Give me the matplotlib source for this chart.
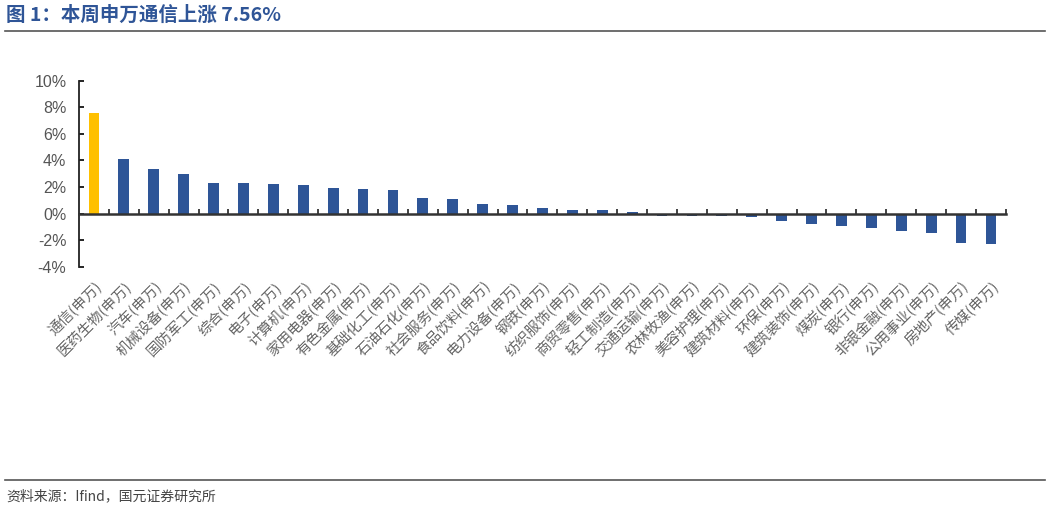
import matplotlib
matplotlib.use("Agg")
import matplotlib.pyplot as plt
from matplotlib.lines import Line2D
from matplotlib.ticker import FixedLocator, FuncFormatter

plt.rcParams['font.family'] = ['Noto Sans CJK SC', 'DejaVu Sans']

industries = ['通信', '医药生物', '汽车', '机械设备', '国防军工', '综合', '电子', '计算机',
              '家用电器', '有色金属', '基础化工', '石油石化', '社会服务', '食品饮料', '电力设备',
              '钢铁', '纺织服饰', '商贸零售', '轻工制造', '交通运输', '农林牧渔', '美容护理',
              '建筑材料', '环保', '建筑装饰', '煤炭', '银行', '非银金融', '公用事业', '房地产', '传媒']
weekly_change = [7.56, 4.08, 3.33, 2.96, 2.30, 2.28, 2.20, 2.15, 1.90, 1.85, 1.80,
                 1.15, 1.07, 0.70, 0.62, 0.40, 0.27, 0.25, 0.12, -0.20, -0.20, -0.18,
                 -0.28, -0.55, -0.78, -0.93, -1.10, -1.33, -1.46, -2.24, -2.31]
highlight = '通信'
y_ticks = [-4, -2, 0, 2, 4, 6, 8, 10]

blue = '#2E5597'
gold = '#FFC000'
labels = [n + '(申万)' for n in industries]
colors = [gold if n == highlight else blue for n in industries]
x = list(range(len(industries)))

fig = plt.figure(figsize=(10.5, 5.09), dpi=100)
ax = fig.add_axes([0.0752, 0.476, 0.8828, 0.3654])

ax.bar(x, weekly_change, width=0.36, color=colors, zorder=2)

ax.set_xlim(-0.5, len(industries) - 0.5)
ax.set_ylim(-4, 10)
ax.set_yticks(y_ticks)
ax.yaxis.set_major_formatter(FuncFormatter(lambda v, p: f'{v:.0f}%'))
ax.tick_params(axis='y', direction='in', length=3.5, width=1.2, labelsize=11.5,
               labelcolor='#555555', pad=9)
for t in ax.get_yticklabels():
    t.set_family(['Liberation Sans', 'DejaVu Sans'])

for s in ['top', 'right']:
    ax.spines[s].set_visible(False)
ax.spines['left'].set_linewidth(1.3)
ax.spines['left'].set_color('#222222')
ax.spines['bottom'].set_position(('data', 0))
ax.spines['bottom'].set_linewidth(1.8)
ax.spines['bottom'].set_color('#333333')
ax.spines['bottom'].set_zorder(3)

ax.set_xticks(x)
ax.set_xticklabels(labels, rotation=45, ha='right', rotation_mode='anchor',
                   fontsize=10.5, color='#666666', fontweight='light')
ax.xaxis.set_minor_locator(FixedLocator([i + 0.5 for i in x]))
ax.tick_params(axis='x', which='major', length=0, pad=47)
ax.tick_params(axis='x', which='minor', direction='in', length=3.5, width=1.2, color='#222222')

fig.text(0.006, 0.969, '图 1：本周申万通信上涨 7.56%', fontsize=14, fontweight='bold',
         color='#2F5597', va='center', ha='left')
fig.add_artist(Line2D([0.005, 0.995], [0.939, 0.939], color='#555555', lw=1.2))
fig.add_artist(Line2D([0.005, 0.995], [0.057, 0.057], color='#555555', lw=1.2))
fig.text(0.006, 0.025, '资料来源：Ifind，国元证券研究所', fontsize=10, color='#444444',
         va='center', ha='left')

fig.savefig('out.png', dpi=100)
